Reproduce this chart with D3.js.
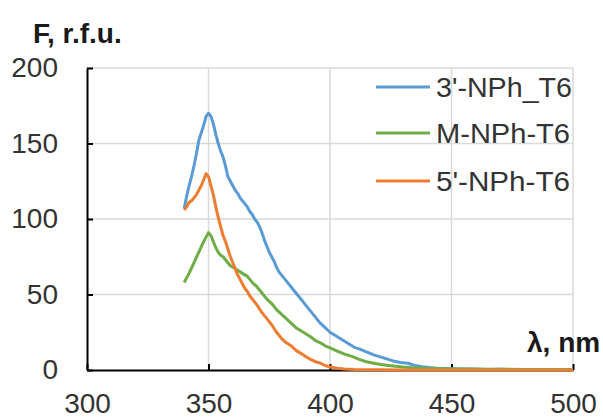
<!DOCTYPE html>
<html>
<head>
<meta charset="utf-8">
<script src="https://cdn.jsdelivr.net/npm/d3@7"></script>
<style>
  html, body { margin: 0; padding: 0; background: #fff; }
  svg { display: block; font-family: "Liberation Sans", Arial, sans-serif; }
</style>
</head>
<body>
<svg id="chart" width="603" height="419"></svg>
<script>
// ---- data ----
const seriesNames = ["3'-NPh_T6", "M-NPh-T6", "5'-NPh-T6"];
const seriesColors = ["#5b9bd5", "#70ad47", "#ed7d31"];
const xTicks = [300, 350, 400, 450, 500];
const yTicks = [0, 50, 100, 150, 200];

const nph3 = [
  [340,107],[341,115],[342,122],[343,128],[344,135],[345,143],[346,152],[347,157],[348,162],[349,168],
  [350,170],[351,168],[352,163],[353,156],[354,150],[355,145],[356,141],[357,135],[358,128],[359,125],
  [360,122],[361,119],[362,117],[363,114],[364,112],[365,110],[366,108],[367,105],[368,103],[369,100],
  [370,98],[371,95],[372,91],[373,86],[374,82],[375,78],[376,75],[377,72],[378,68],[379,65],[380,63],
  [382,59],[384,55],[386,51],[388,47],[390,43],[392,39],[394,35],[396,31],[398,28],[400,25],[402,23],
  [404,21],[406,19],[408,17],[410,15],[412,14],[415,12],[418,10],[420,9],[423,7.5],[426,6],[429,5],
  [432,4.5],[435,3],[438,2.2],[441,1.6],[444,1.2],[447,1],[450,0.8],[455,0.6],[460,0.5],[465,0.4],
  [470,0.5],[475,0.3],[480,0.4],[485,0.3],[490,0.4],[495,0.3],[500,0.3]
];
const nphM = [
  [340,58],[342,64],[344,71],[346,78],[348,85],[349,88],[350,91],[351,89],[352,85],[353,81],[354,78],
  [355,76],[356,75],[357,73],[358,71],[359,69],[360,68],[361,67],[362,66],[364,64],[366,62],[368,58],
  [370,55],[372,51],[374,47],[376,44],[378,40],[380,37],[382,34],[384,31],[386,28],[388,26],[390,24],
  [392,22],[394,19.5],[396,18],[398,16],[400,14.6],[403,12.5],[406,10.5],[409,9],[412,7],[415,5.5],
  [418,4.5],[421,3.6],[424,3],[427,2.5],[430,2],[434,1.5],[438,1.2],[442,1],[446,0.8],[450,0.7],
  [455,0.6],[460,0.6],[465,0.5],[470,0.5],[480,0.4],[490,0.4],[500,0.3]
];
const nph5 = [
  [340,106],[341,108],[342,111],[343,112],[344,114],[345,116],[346,119],[347,122],[348,126],[349,130],
  [350,128],[351,122],[352,116],[353,108],[354,101],[355,95],[356,89],[357,85],[358,80],[359,75],
  [360,71],[361,67],[362,63],[363,60],[364,57],[365,54],[366,52],[367,49],[368,47],[369,45],[370,43],
  [372,38],[374,34],[376,30],[378,25],[380,21],[382,18],[384,16],[386,13],[388,11],[390,9],[392,7],
  [394,5.5],[396,4.6],[398,3],[400,2],[403,1.2],[406,0.6],[410,0.3],[415,0.2],[420,0.1],[430,0],
  [440,0],[450,0],[460,0],[470,0],[480,0],[490,0],[500,0]
];
const seriesData = [nph3, nphM, nph5];

// ---- layout ----
const svg = d3.select("#chart");
const mLeft = 87, mRight = 573, mTop = 68, mBottom = 370;

const x = d3.scaleLinear().domain([300, 500]).range([mLeft, mRight]);
const y = d3.scaleLinear().domain([0, 200]).range([mBottom, mTop]);

// gridlines
const grid = svg.append("g").attr("stroke", "#d9d9d9").attr("stroke-width", 1.5);
grid.selectAll("line.h").data(yTicks.filter(d => d > 0)).enter().append("line")
  .attr("x1", mLeft).attr("x2", mRight).attr("y1", d => y(d)).attr("y2", d => y(d));
grid.selectAll("line.v").data(xTicks.filter(d => d > 300)).enter().append("line")
  .attr("y1", mTop).attr("y2", mBottom).attr("x1", d => x(d)).attr("x2", d => x(d));

// axes
const yAxis = svg.append("g").attr("transform", `translate(${mLeft},0)`)
  .call(d3.axisLeft(y).tickValues(yTicks).tickSize(-6).tickSizeOuter(0).tickPadding(29));
const xAxis = svg.append("g").attr("transform", `translate(0,${mBottom})`)
  .call(d3.axisBottom(x).tickValues(xTicks).tickSize(-6).tickSizeOuter(0).tickPadding(23));
[yAxis, xAxis].forEach(a => {
  a.attr("font-size", 28).attr("font-family", "'Liberation Sans', Arial, sans-serif");
  a.select(".domain").attr("stroke", "#000").attr("stroke-width", 2);
  a.selectAll(".tick line").attr("stroke", "#000").attr("stroke-width", 2);
  a.selectAll(".tick text").attr("fill", "#333");
});

// lines
const line = d3.line().x(d => x(d[0])).y(d => y(d[1]));
svg.append("g").selectAll("path").data(seriesData).enter().append("path")
  .attr("d", line)
  .attr("fill", "none")
  .attr("stroke", (d, i) => seriesColors[i])
  .attr("stroke-width", 3)
  .attr("stroke-linejoin", "round");

// legend
const legY = [87, 133, 181];
const legW = [136, 134, 134];
const leg = svg.append("g");
seriesNames.forEach((name, i) => {
  leg.append("line").attr("x1", 376).attr("x2", 430).attr("y1", legY[i]).attr("y2", legY[i])
    .attr("stroke", seriesColors[i]).attr("stroke-width", 3);
  leg.append("text").attr("x", 436).attr("y", legY[i]).attr("dy", "0.35em")
    .attr("font-size", 28).attr("fill", "#333")
    .attr("textLength", legW[i]).attr("lengthAdjust", "spacingAndGlyphs")
    .text(name);
});

// axis titles
svg.append("text").attr("x", 33).attr("y", 43).attr("font-size", 28).attr("font-weight", "bold")
  .attr("fill", "#1a1a1a").text("F, r.f.u.");
svg.append("text").attr("x", 527).attr("y", 352).attr("font-size", 28).attr("font-weight", "bold")
  .attr("fill", "#1a1a1a").text("λ, nm");
</script>
</body>
</html>
